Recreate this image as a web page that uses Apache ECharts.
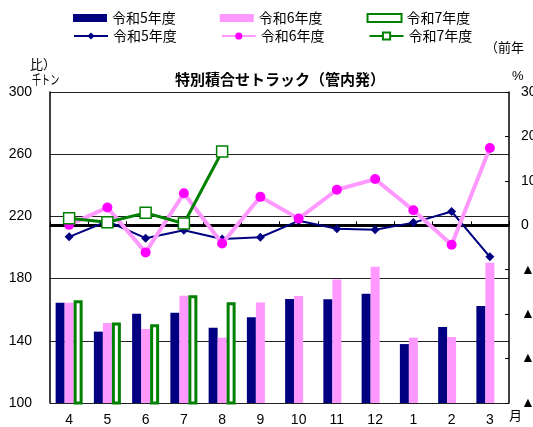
<!DOCTYPE html>
<html><head><meta charset="utf-8">
<script src="https://cdn.jsdelivr.net/npm/echarts@6/dist/echarts.min.js"></script>
<style>html,body{margin:0;padding:0;background:#fff}#c{width:533px;height:427px}</style>
</head><body><div id="c"></div>
<script>
const months = ['4','5','6','7','8','9','10','11','12','1','2','3'];
const yearNames = ['令和5年度','令和6年度','令和7年度'];
// volumes (千トン), left axis
const vol5 = [164.5,145.9,157.4,158.0,148.4,155.1,166.9,166.7,170.3,137.9,148.9,162.4];
const vol6 = [164.5,151.4,147.6,169.0,142.0,164.7,168.8,179.5,187.7,142.0,142.4,190.2];
const vol7 = [166.0,151.8,150.7,169.3,164.8,null,null,null,null,null,null,null];
// year-on-year change (%), right axis
const yoy5 = [-2.6,0.9,-2.9,-1.1,-3.1,-2.7,1.0,-0.8,-1.0,0.6,3.1,-7.1];
const yoy6 = [0.1,4.0,-6.1,7.2,-4.1,6.4,1.5,8.0,10.4,3.4,-4.4,17.4];
const yoy7 = [1.6,0.7,2.8,0.4,16.6,null,null,null,null,null,null,null];
const leftTicks = {min:100, max:300, interval:40};
const rightTicks = {min:-40, max:30, interval:10};

const FONT = 'Arial, "Liberation Sans", "Noto Sans CJK JP", sans-serif';
const JP = '"Noto Sans CJK JP", sans-serif';
const NAVY = '#000080', PINK = '#FF99FF', MAG = '#FF00FF', GREEN = '#008000';
const labelMap = {b5:yearNames[0], b6:yearNames[1], b7:yearNames[2], l5:yearNames[0], l6:yearNames[1], l7:yearNames[2]};

const chart = echarts.init(document.getElementById('c'), null, {renderer:'canvas'});
chart.setOption({
  animation:false,
  backgroundColor:'#fff',
  title:{text:'特別積合せトラック（管内発）', left:170, top:67,
    textStyle:{fontFamily:JP, fontWeight:'bold', fontSize:15, color:'#000'}},
  legend:[
    {data:['b5','b6','b7'], icon:'rect', left:68, top:6, itemWidth:34, itemHeight:8, itemGap:44,
     formatter:n=>labelMap[n], textStyle:{fontFamily:JP, fontSize:14, color:'#000'}},
    {data:['l5','l6','l7'], left:68, top:24, itemWidth:34, itemHeight:9, itemGap:44,
     formatter:n=>labelMap[n], textStyle:{fontFamily:JP, fontSize:14, color:'#000'}}
  ],
  grid:{left:50, right:24, top:92, bottom:24, containLabel:false, outerBoundsMode:'none'},
  xAxis:{type:'category', data:months,
    axisLine:{lineStyle:{color:'#000', width:1.5}},
    axisTick:{show:true, inside:true, length:4, lineStyle:{color:'#000'}},
    axisLabel:{fontFamily:FONT, fontSize:14, color:'#000', margin:10}
  },
  yAxis:[
    {type:'value', min:leftTicks.min, max:leftTicks.max, interval:leftTicks.interval,
     axisLine:{show:true, lineStyle:{color:'#000', width:1.5}},
     axisTick:{show:false},
     axisLabel:{fontFamily:FONT, fontSize:14, color:'#000', margin:18},
     splitLine:{show:true, lineStyle:{color:'#222', width:1}}},
    {type:'value', min:rightTicks.min, max:rightTicks.max, interval:rightTicks.interval, position:'right',
     axisLine:{show:true, lineStyle:{color:'#000', width:1.5}},
     axisTick:{show:true, inside:true, length:4, lineStyle:{color:'#000'}},
     axisLabel:{fontFamily:FONT, fontSize:14, color:'#000', margin:12,
       formatter:v=> v<0 ? '▲'+(-v) : String(v)},
     splitLine:{show:false}}
  ],
  graphic:[
    {type:'text', left:30, top:58, style:{text:'比）', fontFamily:JP, fontSize:13, fill:'#000'}},
    {type:'text', x:32, y:73, scaleX:0.7, style:{text:'千トン', fontFamily:JP, fontSize:13, fill:'#000'}},
    {type:'text', left:485, top:41, style:{text:'（前年', fontFamily:JP, fontSize:13, fill:'#000'}},
    {type:'text', left:512, top:70, style:{text:'%', fontFamily:FONT, fontSize:13, fill:'#000'}},
    {type:'text', left:509, top:409, style:{text:'月', fontFamily:JP, fontSize:13, fill:'#000'}}
  ],
  series:[
    {name:'b5', type:'bar', data:vol5, barWidth:9, barGap:'0%', z:2,
     itemStyle:{color:NAVY}},
    {name:'b6', type:'bar', data:vol6, barWidth:9, barGap:'0%', z:2,
     itemStyle:{color:PINK}},
    {name:'b7', type:'bar', data:vol7, barWidth:9, barGap:'0%', z:2,
     itemStyle:{color:'#fff', borderColor:GREEN, borderWidth:3}},
    {name:'l5', type:'line', yAxisIndex:1, data:yoy5, z:5,
     lineStyle:{color:NAVY, width:2}, itemStyle:{color:NAVY},
     symbol:'diamond', symbolSize:9, showAllSymbol:true,
     markLine:{silent:true, symbol:['none','none'], label:{show:false},
       lineStyle:{color:'#000', width:3, type:'solid'}, data:[{yAxis:0}]}},
    {name:'l6', type:'line', yAxisIndex:1, data:yoy6, z:6,
     lineStyle:{color:PINK, width:4}, itemStyle:{color:MAG},
     symbol:'circle', symbolSize:10, showAllSymbol:true},
    {name:'l7', type:'line', yAxisIndex:1, data:yoy7, z:7,
     lineStyle:{color:GREEN, width:3}, itemStyle:{color:'#fff', borderColor:GREEN, borderWidth:1.5},
     symbol:'rect', symbolSize:11, showAllSymbol:true}
  ]
});
</script></body></html>
